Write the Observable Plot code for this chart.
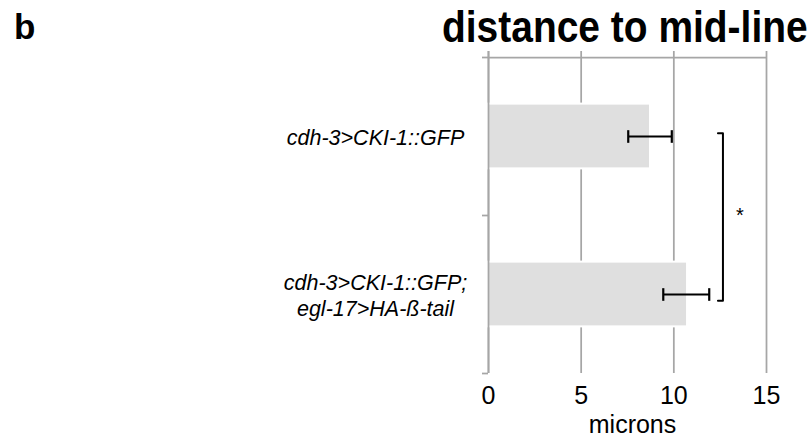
<!DOCTYPE html>
<html>
<head>
<meta charset="utf-8">
<script src="https://cdn.jsdelivr.net/npm/d3@7"></script>
<script src="https://cdn.jsdelivr.net/npm/@observablehq/plot@0.6"></script>
<style>
  html, body { margin: 0; padding: 0; background: #fff; }
  #wrap { position: relative; width: 812px; height: 437px; font-family: "Liberation Sans", Arial, sans-serif; }
  #panel { position: absolute; left: 14px; top: 9px; font-weight: bold; font-size: 35px; line-height: 1; }
  #title { position: absolute; left: 442px; top: 5px; font-weight: bold; font-size: 44px; line-height: 1; white-space: nowrap; transform: scaleX(0.885); transform-origin: 0 0; }
  #chart { position: absolute; left: 0; top: 0; }
</style>
</head>
<body>
<div id="wrap">
  <div id="chart"></div>
  <div id="panel">b</div>
  <div id="title">distance to mid-line</div>
</div>
<script>
// ---- data ----
const categories = ["cdh-3>CKI-1::GFP", "cdh-3>CKI-1::GFP;\negl-17>HA-ß-tail"];
const means = [8.74, 10.74];
const errLow = [7.54, 9.43];
const errHigh = [9.89, 11.91];
const xTicks = [0, 5, 10, 15];
const xLabel = "microns";
// significance bracket (x in microns, y in category units)
const bracketX = [12.38, 12.65, 12.65, 12.38];
const bracketY = [0.48, 0.48, 1.54, 1.54];
const starLabel = ["*"];
const starX = [13.56];
const starY = [1.0];

const data = categories.map((c, i) => ({cat: c, pos: i + 0.5, mean: means[i], lo: errLow[i], hi: errHigh[i]}));
const bracket = bracketX.map((x, i) => ({x, y: bracketY[i]}));
const stars = starLabel.map((t, i) => ({t, x: starX[i], y: starY[i]}));

const grid = "#a6a6a6";
const gw = 1.75;
const barHalf = 0.205;
const capHalf = 0.04;

const chart = Plot.plot({
  width: 812,
  height: 437,
  marginLeft: 488,
  marginRight: 46,
  marginTop: 57,
  marginBottom: 64,
  style: {fontFamily: "Liberation Sans, Arial, sans-serif", fontSize: "25px", color: "#000", background: "#fff"},
  x: {domain: [0, 15], label: null},
  y: {domain: [0, 2], reverse: true, label: null},
  marks: [
    Plot.ruleX(xTicks, {x: d => d, insetTop: -6, stroke: grid, strokeWidth: gw}),
    Plot.ruleY([0], {y: d => d, stroke: grid, strokeWidth: gw}),
    Plot.axisY({ticks: [0, 1, 2], tickSize: 6, tickFormat: () => "", stroke: grid, strokeWidth: gw, strokeOpacity: 1, label: null}),
    Plot.rectX(data, {x1: 0, x2: "mean", y1: d => d.pos - barHalf, y2: d => d.pos + barHalf, fill: "#dfdfdf", stroke: "#fff", strokeWidth: 2}),
    Plot.ruleX([0], {x: d => d, insetTop: -6, stroke: grid, strokeWidth: gw}),
    Plot.link(data, {x1: "lo", x2: "hi", y1: "pos", y2: "pos", stroke: "#000", strokeWidth: 2}),
    Plot.link(data, {x1: "lo", x2: "lo", y1: d => d.pos - capHalf, y2: d => d.pos + capHalf, stroke: "#000", strokeWidth: 2.2}),
    Plot.link(data, {x1: "hi", x2: "hi", y1: d => d.pos - capHalf, y2: d => d.pos + capHalf, stroke: "#000", strokeWidth: 2.2}),
    Plot.line(bracket, {x: "x", y: "y", stroke: "#000", strokeWidth: 2}),
    Plot.text(stars, {x: "x", y: "y", text: "t", fontSize: 20, fill: "#000"}),
    Plot.axisY({ticks: [0.5, 1.5], tickFormat: v => categories[Math.floor(v)], tickSize: 0, tickPadding: 0, dx: -113, textAnchor: "middle", fontSize: 21.5, fontStyle: "italic", lineHeight: 1.2, fill: "#000", label: null}),
    Plot.axisX({anchor: "bottom", ticks: xTicks, tickSize: 0, tickPadding: 13, fontSize: 25, fill: "#000", label: null}),
    Plot.text([xLabel], {frameAnchor: "bottom", lineAnchor: "middle", text: d => d, dy: 51, dx: 5, fontSize: 25, fill: "#000"})
  ]
});
document.getElementById("chart").appendChild(chart);
</script>
</body>
</html>
